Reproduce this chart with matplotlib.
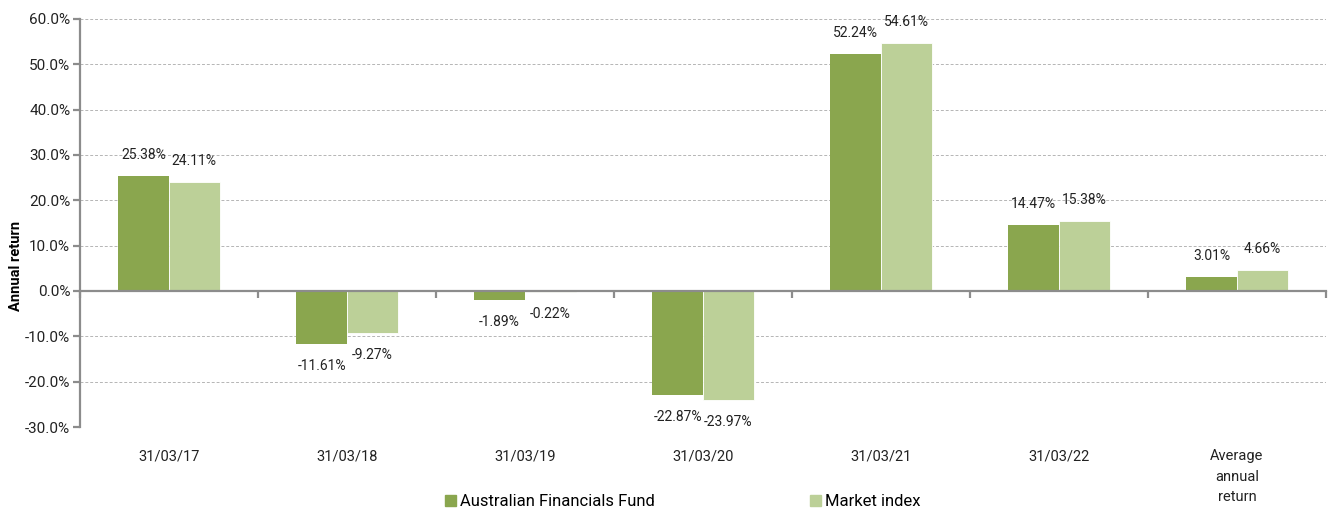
import numpy as np
import matplotlib.pyplot as plt
from matplotlib.patches import Patch

plt.rcParams['font.family'] = ['Roboto', 'DejaVu Sans']

categories = ['31/03/17', '31/03/18', '31/03/19', '31/03/20', '31/03/21', '31/03/22',
              'Average\nannual\nreturn']
fund = [25.38, -11.61, -1.89, -22.87, 52.24, 14.47, 3.01]
market = [24.11, -9.27, -0.22, -23.97, 54.61, 15.38, 4.66]
series_names = ['Australian Financials Fund', 'Market index']
colors = ['#8aa64e', '#bcd098']

fig = plt.figure(figsize=(13.28, 5.12), dpi=100)
ax = fig.add_axes([0.0602, 0.166, 0.9383, 0.797])

x = np.arange(len(categories))
w = 0.285
b1 = ax.bar(x - w / 2, fund, w, color=colors[0], zorder=3)
b2 = ax.bar(x + w / 2, market, w, color=colors[1], edgecolor='white', linewidth=0.6, zorder=3)

for bars, vals in ((b1, fund), (b2, market)):
    for r, v in zip(bars, vals):
        off = 10 if v >= 0 else -11
        ax.annotate(f'{v:.2f}%', xy=(r.get_x() + r.get_width() / 2, v),
                    xytext=(0, off), textcoords='offset points',
                    ha='center', va='bottom' if v >= 0 else 'top', fontsize=10, color='#222222')

ax.set_xlim(-0.5, len(categories) - 0.5)
ax.set_ylim(-30, 60)
ax.set_yticks(np.arange(-30, 61, 10))
ax.set_yticklabels([f'{t:.1f}%' for t in np.arange(-30, 61, 10)], fontsize=11, color='#222222')
ax.yaxis.grid(True, linestyle=(0, (3, 2)), color='#b5b5b5', linewidth=0.7, zorder=0)
ax.set_axisbelow(True)

ax.set_xticks(np.arange(len(categories) + 1) - 0.5)
ax.set_xticklabels([])
ax.spines['bottom'].set_position(('data', 0))
ax.spines['top'].set_visible(False)
ax.spines['right'].set_visible(False)
for s in ('bottom', 'left'):
    ax.spines[s].set_color('#8c8c8c')
    ax.spines[s].set_linewidth(1.6)
    ax.spines[s].set_zorder(4)
ax.tick_params(axis='x', length=5, width=1.6, color='#8c8c8c')
ax.tick_params(axis='y', length=5, width=1.6, color='#8c8c8c', pad=2)

for i, c in enumerate(categories):
    ax.annotate(c, xy=(i, 0), xycoords=('data', 'axes fraction'), xytext=(0, -16),
                textcoords='offset points', ha='center', va='top', fontsize=10.5,
                color='#222222', linespacing=1.6)

ax.set_ylabel('Annual return', fontsize=10.5, fontweight='bold')
ax.yaxis.set_label_coords(-0.046, 0.395)

handles = [Patch(color=c) for c in colors]
fig.legend(handles, series_names, loc='lower center', bbox_to_anchor=(0.514, -0.024), ncol=2,
           frameon=False, fontsize=12, handlelength=0.66, handleheight=0.7,
           handletextpad=0.25, columnspacing=9.3)

fig.savefig('out.png', dpi=100)
